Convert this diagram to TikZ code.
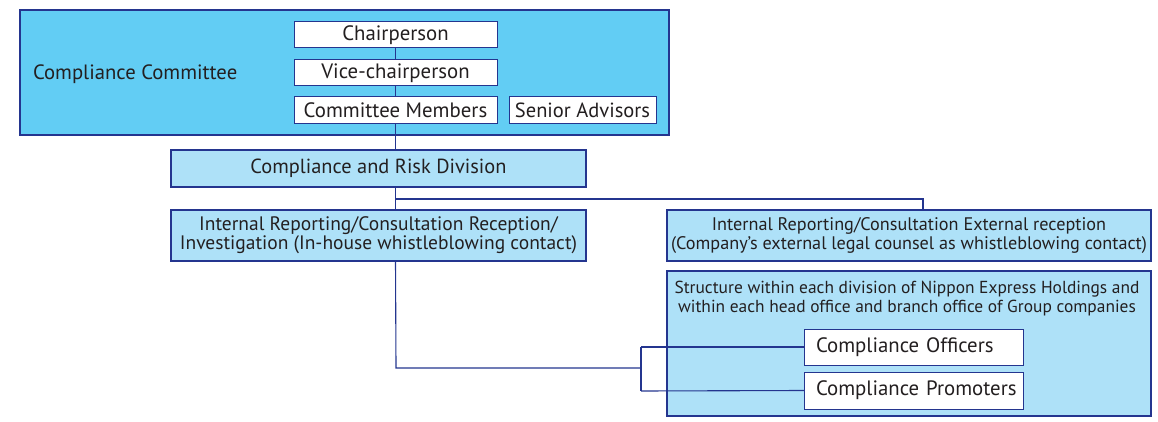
\documentclass[tikz,border=0pt]{standalone}
\usepackage{fontspec}
\setmainfont{PT Sans}
\definecolor{cyanA}{HTML}{62CDF4}
\definecolor{cyanB}{HTML}{AEE1F8}
\definecolor{navy}{HTML}{24358F}
\definecolor{txt}{HTML}{231F20}
\newcommand{\fsz}[1]{\fontsize{#1}{18.8}\selectfont}
\begin{document}
\begin{tikzpicture}[x=1pt,y=-1pt,
  every node/.style={font=\fsz{19}, text=txt, inner sep=0pt, outer sep=0pt},
  bigbox/.style={draw=navy, line width=1.1pt, fill=cyanA},
  lightbox/.style={draw=navy, line width=1.1pt, fill=cyanB, align=center},
  whitebox/.style={draw=navy, line width=1pt, fill=white, font=\fsz{20.8}},
  leftbox/.style={whitebox, minimum width=219pt, text width=209pt, align=left},
  conn/.style={draw=navy, line width=1.1pt}]
\useasboundingbox (0,0) rectangle (1158,422);
% committee
\node[bigbox, minimum width=649pt, minimum height=125pt] (cc) at (344.5,72.5) {};
\node[anchor=west, font=\fsz{20.7}] (cclabel) at (33,74) {Compliance Committee};
\node[whitebox, minimum width=203pt, minimum height=26pt] (chair) at (395.5,35) {Chairperson};
\node[whitebox, minimum width=203pt, minimum height=26pt] (vice) at (395.5,73) {Vice-chairperson};
\node[whitebox, minimum width=203pt, minimum height=27pt] (members) at (395.5,110.5) {Committee Members};
\node[whitebox, minimum width=147pt, minimum height=27pt, font=\fsz{20.5}] (senior) at (582.5,110.5) {Senior Advisors};
% division
\node[lightbox, minimum width=415pt, minimum height=37pt, font=\fsz{20.4}] (crd) at (378.5,168.5) {Compliance and Risk Division};
\node[lightbox, minimum width=415pt, minimum height=51pt, font=\fsz{19.5}] (irl) at (378.5,235.5) {Internal Reporting/Consultation Reception/\\Investigation (In-house whistleblowing contact)};
\node[lightbox, minimum width=484pt, minimum height=51pt, font=\fsz{18.2}] (irr) at (909,235.5) {Internal Reporting/Consultation External reception\\(Company's external legal counsel as whistleblowing contact)};
\node[lightbox, minimum width=484pt, minimum height=145pt] (str) at (909,343.5) {};
\node[align=center, anchor=north, font=\fsz{17.4}] (strlabel) at (907,281) {Structure within each division of Nippon Express Holdings and\\within each head office and branch office of Group companies};
\node[leftbox, minimum height=36pt] (off) at (913.5,347) {\hspace*{7pt}Compliance Officers};
\node[leftbox, minimum height=37pt] (pro) at (913.5,390.5) {\hspace*{7pt}Compliance Promoters};
% connectors
\coordinate (br) at (923,199);
\coordinate (jl) at (396,368);
\coordinate (jr) at (641,368);
\coordinate (jt) at (641,347);
\coordinate (jb) at (641,391);
\path[conn] (chair.south) -- (vice.north);
\path[conn] (vice.south) -- (members.north);
\path[conn] (members.south) -- (members.south |- crd.north);
\path[conn] (crd.south -| members.south) -- (irl.north -| members.south);
\path[conn] (members.south |- br) -- (br) -- (br |- irr.north);
\path[conn] (irl.south -| members.south) -- (jl) -- (jr);
\path[conn] (jt) -- (jb);
\path[conn] (jt) -- (off.west);
\path[conn] (jb) -- (pro.west);
\end{tikzpicture}
\end{document}
